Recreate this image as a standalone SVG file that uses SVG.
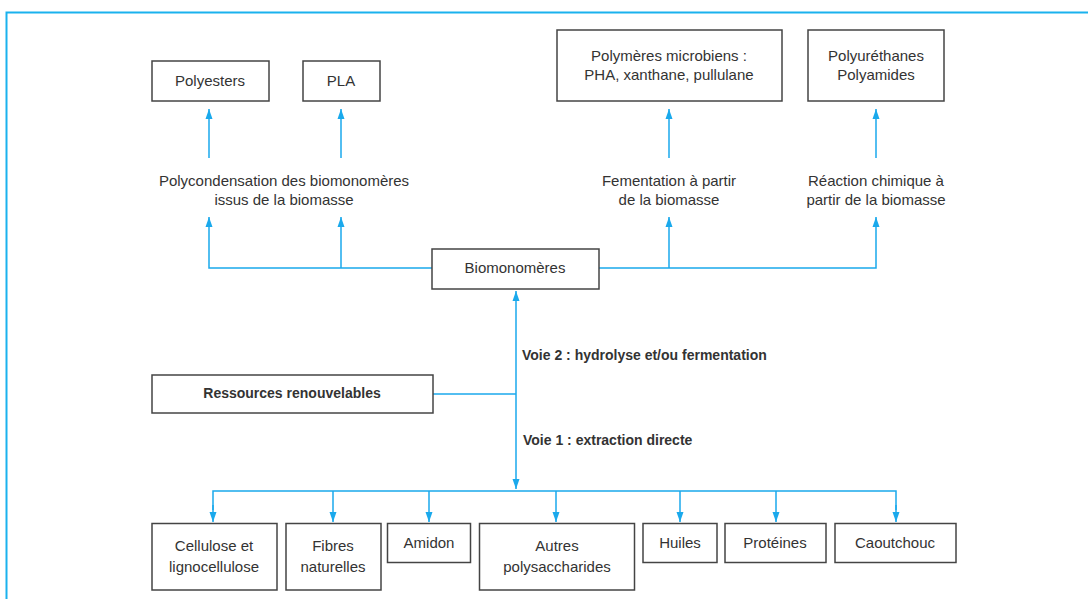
<svg xmlns="http://www.w3.org/2000/svg" width="1088" height="599" viewBox="0 0 1088 599">
<defs>
<marker id="ah" viewBox="0 0 10 10" refX="10" refY="5" markerWidth="10" markerHeight="10" markerUnits="userSpaceOnUse" orient="auto-start-reverse">
<path d="M0,1.5 L10,5 L0,8.5 Z" fill="#1aa9ec"/>
</marker>
<style>
.b{fill:#fff;stroke:#444;stroke-width:1.5}
.t{font-family:"Liberation Sans",Arial,sans-serif;font-size:15px;fill:#333;text-anchor:middle}
.tb{font-family:"Liberation Sans",Arial,sans-serif;font-size:14px;font-weight:bold;fill:#333}
.c{fill:none;stroke:#1aa9ec;stroke-width:1.5}
</style>
</defs>
<rect width="1088" height="599" fill="#fff"/>
<path d="M6.5,599 V12.5 H1088" fill="none" stroke="#1ab2ee" stroke-width="2"/>

<g id="connectors">
<path class="c" d="M209,158 V109" marker-end="url(#ah)"/>
<path class="c" d="M341,158 V109" marker-end="url(#ah)"/>
<path class="c" d="M669,158 V109" marker-end="url(#ah)"/>
<path class="c" d="M876,158 V109" marker-end="url(#ah)"/>
<path class="c" d="M432,268 H209 V230"/>
<path class="c" d="M209,230 V217" marker-end="url(#ah)"/>
<path class="c" d="M341,268 V217" marker-end="url(#ah)"/>
<path class="c" d="M599,268 H876 V230"/>
<path class="c" d="M876,230 V217" marker-end="url(#ah)"/>
<path class="c" d="M669,268 V217" marker-end="url(#ah)"/>
<path class="c" d="M516,291 V489" marker-start="url(#ah)" marker-end="url(#ah)"/>
<path class="c" d="M433,394 H516"/>
<path class="c" d="M213,510 V491 H896 V510"/>
<path class="c" d="M213,505 V522" marker-end="url(#ah)"/>
<path class="c" d="M896,505 V522" marker-end="url(#ah)"/>
<path class="c" d="M333,491 V522" marker-end="url(#ah)"/>
<path class="c" d="M429,491 V522" marker-end="url(#ah)"/>
<path class="c" d="M556,491 V522" marker-end="url(#ah)"/>
<path class="c" d="M680,491 V522" marker-end="url(#ah)"/>
<path class="c" d="M776,491 V522" marker-end="url(#ah)"/>
</g>

<g id="polyesters"><rect class="b" x="152" y="61" width="117" height="40"/><text class="t" x="210" y="86">Polyesters</text></g>
<g id="pla"><rect class="b" x="303" y="61" width="77" height="40"/><text class="t" x="341" y="86">PLA</text></g>
<g id="polymeres"><rect class="b" x="557" y="30" width="225" height="71"/><text class="t" x="669" y="61">Polymères microbiens :</text><text class="t" x="669" y="80">PHA, xanthane, pullulane</text></g>
<g id="polyurethanes"><rect class="b" x="808" y="30" width="136" height="71"/><text class="t" x="876" y="61">Polyuréthanes</text><text class="t" x="876" y="80">Polyamides</text></g>

<g id="label-polycondensation"><text class="t" x="284" y="186">Polycondensation des biomonomères</text><text class="t" x="284" y="205">issus de la biomasse</text></g>
<g id="label-fermentation"><text class="t" x="669" y="186">Fementation à partir</text><text class="t" x="669" y="205">de la biomasse</text></g>
<g id="label-reaction"><text class="t" x="876" y="186">Réaction chimique à</text><text class="t" x="876" y="205">partir de la biomasse</text></g>

<g id="biomonomeres"><rect class="b" x="432" y="249" width="167" height="40"/><text class="t" x="515" y="273">Biomonomères</text></g>
<g id="ressources"><rect class="b" x="152" y="375" width="281" height="38"/><text class="tb" x="292" y="398" text-anchor="middle">Ressources renouvelables</text></g>
<g id="label-voie2"><text class="tb" x="522" y="360">Voie 2 : hydrolyse et/ou fermentation</text></g>
<g id="label-voie1"><text class="tb" x="523" y="445">Voie 1 : extraction directe</text></g>

<g id="cellulose"><rect class="b" x="152" y="523.5" width="125" height="66.5"/><text class="t" x="214" y="551">Cellulose et</text><text class="t" x="214" y="572">lignocellulose</text></g>
<g id="fibres"><rect class="b" x="286" y="523.5" width="95" height="66.5"/><text class="t" x="333" y="551">Fibres</text><text class="t" x="333" y="572">naturelles</text></g>
<g id="amidon"><rect class="b" x="387.5" y="523.5" width="83" height="39"/><text class="t" x="429" y="548">Amidon</text></g>
<g id="autres"><rect class="b" x="479.5" y="523.5" width="155" height="66.5"/><text class="t" x="557" y="551">Autres</text><text class="t" x="557" y="572">polysaccharides</text></g>
<g id="huiles"><rect class="b" x="643" y="523.5" width="74" height="39"/><text class="t" x="680" y="548">Huiles</text></g>
<g id="proteines"><rect class="b" x="725" y="523.5" width="101" height="39"/><text class="t" x="775" y="548">Protéines</text></g>
<g id="caoutchouc"><rect class="b" x="835" y="523.5" width="121" height="39"/><text class="t" x="895" y="548">Caoutchouc</text></g>
</svg>
